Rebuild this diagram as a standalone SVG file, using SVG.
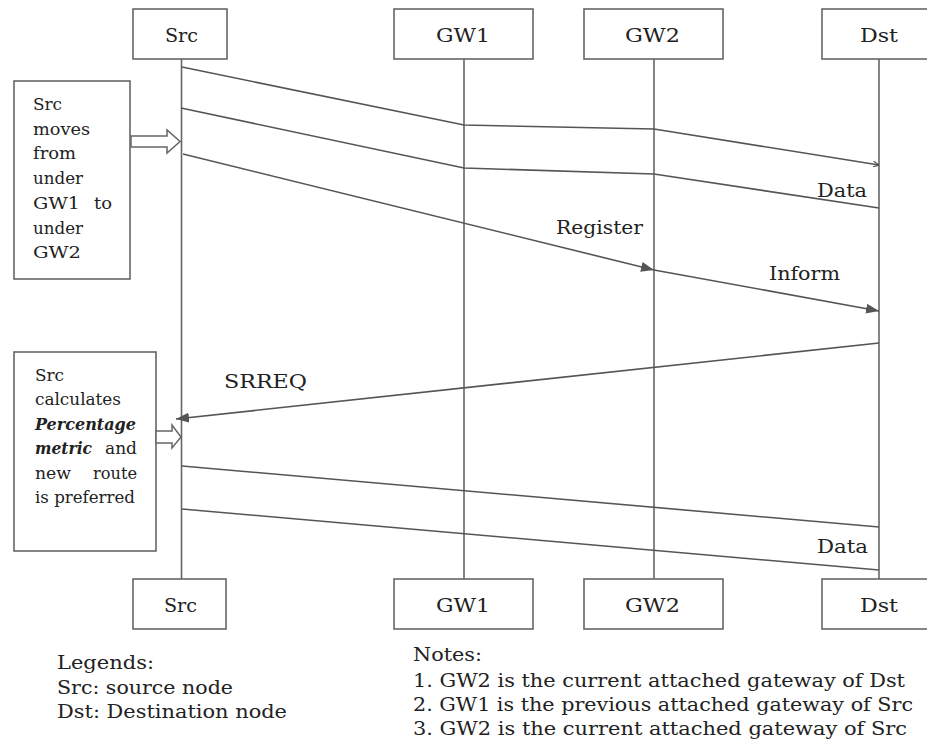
<svg xmlns="http://www.w3.org/2000/svg" width="927" height="755" viewBox="0 0 927 755">
  <defs>
    <marker id="head" markerWidth="13" markerHeight="10" refX="13" refY="5" orient="auto" markerUnits="userSpaceOnUse">
      <path d="M0,0 L13,5 L0,10 z" fill="#555"/>
    </marker>
    <marker id="tick" markerWidth="6" markerHeight="6" refX="6" refY="3" orient="auto" markerUnits="userSpaceOnUse">
      <path d="M0,0 L6,3 L0,6" fill="none" stroke="#555" stroke-width="1.2"/>
    </marker>
  </defs>
  <style>
    .box{fill:#fff;stroke:#666;stroke-width:1.6}
    .life{stroke:#666;stroke-width:1.6;fill:none}
    .msg{fill:none;stroke:#555;stroke-width:1.6}
    .hollow{fill:#fff;stroke:#666;stroke-width:1.5}
    text{font-family:DejaVu Serif,serif;fill:#222}
    .lbl{font-size:19px}
    .small{font-size:16px}
    .bi{font-weight:bold;font-style:italic}
    .note{font-size:18px}
  </style>
  <rect width="927" height="755" fill="#fff"/>

  <!-- participants: top box, lifeline, bottom box -->
  <g id="src">
    <line class="life" x1="181.5" y1="59" x2="181.5" y2="579"/>
    <rect class="box" x="133" y="9" width="94" height="50"/>
    <text class="lbl" x="165" y="42" textLength="33" lengthAdjust="spacingAndGlyphs">Src</text>
    <rect class="box" x="133" y="579" width="93" height="50"/>
    <text class="lbl" x="164" y="612" textLength="33" lengthAdjust="spacingAndGlyphs">Src</text>
  </g>
  <g id="gw1">
    <line class="life" x1="464" y1="59" x2="464" y2="579"/>
    <rect class="box" x="394" y="9" width="139" height="50"/>
    <text class="lbl" x="436" y="42" textLength="54" lengthAdjust="spacingAndGlyphs">GW1</text>
    <rect class="box" x="394" y="579" width="139" height="50"/>
    <text class="lbl" x="436" y="612" textLength="54" lengthAdjust="spacingAndGlyphs">GW1</text>
  </g>
  <g id="gw2">
    <line class="life" x1="654" y1="59" x2="654" y2="579"/>
    <rect class="box" x="584" y="9" width="139" height="50"/>
    <text class="lbl" x="625" y="42" textLength="55" lengthAdjust="spacingAndGlyphs">GW2</text>
    <rect class="box" x="584" y="579" width="139" height="50"/>
    <text class="lbl" x="625" y="612" textLength="55" lengthAdjust="spacingAndGlyphs">GW2</text>
  </g>
  <g id="dst">
    <line class="life" x1="879" y1="59" x2="879" y2="579"/>
    <rect class="box" x="822" y="9" width="120" height="50"/>
    <text class="lbl" x="860" y="42" textLength="38" lengthAdjust="spacingAndGlyphs">Dst</text>
    <rect class="box" x="822" y="579" width="120" height="50"/>
    <text class="lbl" x="860" y="612" textLength="38" lengthAdjust="spacingAndGlyphs">Dst</text>
  </g>

  <!-- side notes on the Src lifeline -->
  <g id="move-note">
    <rect class="box" x="14" y="81" width="116" height="198"/>
    <text class="small" x="33" y="110" textLength="29" lengthAdjust="spacingAndGlyphs">Src</text>
    <text class="small" x="33" y="134.7" textLength="57" lengthAdjust="spacingAndGlyphs">moves</text>
    <text class="small" x="33" y="159.4" textLength="43" lengthAdjust="spacingAndGlyphs">from</text>
    <text class="small" x="33" y="184" textLength="50" lengthAdjust="spacingAndGlyphs">under</text>
    <text class="small" x="33" y="208.8" textLength="47" lengthAdjust="spacingAndGlyphs">GW1</text>
    <text class="small" x="94" y="208.8" textLength="18" lengthAdjust="spacingAndGlyphs">to</text>
    <text class="small" x="33" y="233.5" textLength="50" lengthAdjust="spacingAndGlyphs">under</text>
    <text class="small" x="33" y="258.2" textLength="48" lengthAdjust="spacingAndGlyphs">GW2</text>
    <polygon class="hollow" points="131,136 167,136 167,130 180,141.5 167,153 167,147 131,147"/>
  </g>
  <g id="calc-note">
    <rect class="box" x="14" y="352" width="142" height="199"/>
    <text class="small" x="35" y="381" textLength="29" lengthAdjust="spacingAndGlyphs">Src</text>
    <text class="small" x="35" y="405" textLength="86" lengthAdjust="spacingAndGlyphs">calculates</text>
    <text class="small bi" x="35" y="429.5" textLength="101" lengthAdjust="spacingAndGlyphs">Percentage</text>
    <text class="small bi" x="35" y="454" textLength="57" lengthAdjust="spacingAndGlyphs">metric</text>
    <text class="small" x="105" y="454" textLength="32" lengthAdjust="spacingAndGlyphs">and</text>
    <text class="small" x="35" y="478.5" textLength="36" lengthAdjust="spacingAndGlyphs">new</text>
    <text class="small" x="93" y="478.5" textLength="44" lengthAdjust="spacingAndGlyphs">route</text>
    <text class="small" x="35" y="503" textLength="100" lengthAdjust="spacingAndGlyphs">is preferred</text>
    <polygon class="hollow" points="156,431 172,431 172,425 181,437 172,448 172,443 156,443"/>
  </g>

  <!-- messages -->
  <g id="connectors">
    <polyline class="msg" points="182,67 464,125 654,129 879,165" marker-end="url(#tick)"/>
    <polyline class="msg" points="181,108 464,168 654,174 879,208"/>
    <line class="msg" x1="183" y1="154" x2="654" y2="270" marker-end="url(#head)"/>
    <line class="msg" x1="654" y1="270" x2="879" y2="311" marker-end="url(#head)"/>
    <line class="msg" x1="879" y1="343" x2="176" y2="419" marker-end="url(#head)"/>
    <line class="msg" x1="182" y1="466" x2="879" y2="527"/>
    <line class="msg" x1="182" y1="509" x2="879" y2="570"/>
    <text class="lbl" x="817" y="197" textLength="50" lengthAdjust="spacingAndGlyphs">Data</text>
    <text class="lbl" x="556" y="234" textLength="87" lengthAdjust="spacingAndGlyphs">Register</text>
    <text class="lbl" x="769" y="280" textLength="71" lengthAdjust="spacingAndGlyphs">Inform</text>
    <text class="lbl" x="224" y="388" textLength="83" lengthAdjust="spacingAndGlyphs">SRREQ</text>
    <text class="lbl" x="817" y="553" textLength="51" lengthAdjust="spacingAndGlyphs">Data</text>
  </g>

  <!-- legend and notes -->
  <g id="legend">
    <text class="note" x="57" y="669" textLength="97" lengthAdjust="spacingAndGlyphs">Legends:</text>
    <text class="note" x="57" y="694" textLength="176" lengthAdjust="spacingAndGlyphs">Src:  source node</text>
    <text class="note" x="57" y="718" textLength="230" lengthAdjust="spacingAndGlyphs">Dst: Destination node</text>
  </g>
  <g id="notes">
    <text class="note" x="413" y="661" textLength="69" lengthAdjust="spacingAndGlyphs">Notes:</text>
    <text class="note" x="413" y="687" textLength="492" lengthAdjust="spacingAndGlyphs">1. GW2 is the current attached gateway of Dst</text>
    <text class="note" x="413" y="711" textLength="500" lengthAdjust="spacingAndGlyphs">2. GW1 is the previous attached gateway of Src</text>
    <text class="note" x="413" y="735" textLength="494" lengthAdjust="spacingAndGlyphs">3. GW2 is the current attached gateway of Src</text>
  </g>
</svg>
